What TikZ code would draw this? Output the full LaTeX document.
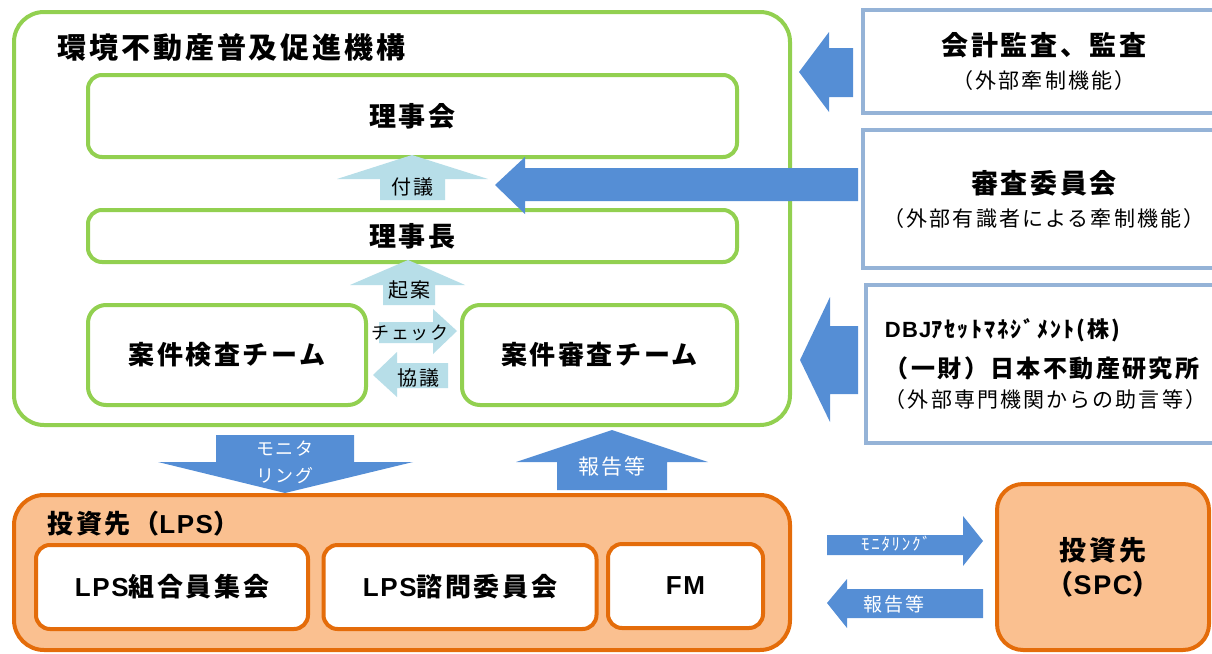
\documentclass[tikz,border=0pt]{standalone}
\usepackage{fontspec}
\setmainfont{Noto Sans CJK JP}[LetterSpace=10]
\newfontfamily\lat{Liberation Sans}[LetterSpace=6]
\usetikzlibrary{positioning}
\definecolor{leaf}{HTML}{92D050}
\definecolor{rust}{HTML}{E46C0A}
\definecolor{peach}{HTML}{FAC090}
\definecolor{steel}{HTML}{95B3D7}
\definecolor{arrblue}{HTML}{558ED5}
\definecolor{skyarr}{HTML}{B7DEE8}
\tikzset{
  gbox/.style={draw=leaf,line width=4pt,rounded corners=14pt,fill=white,
    inner sep=0pt,align=center},
  obox/.style={draw=rust,line width=4pt,rounded corners=14pt,fill=white,
    inner sep=0pt,align=center},
  sbox/.style={draw=steel,line width=4pt,fill=white,inner sep=0pt},
  barr/.style={fill=arrblue},
  larr/.style={fill=skyarr},
  hd/.style={font=\fontsize{27}{33}\selectfont\bfseries},
  wtxt/.style={text=white,font=\fontsize{19}{27}\selectfont,inner sep=0pt,align=center},
  ktxt/.style={font=\fontsize{20}{24}\selectfont,inner sep=0pt},
}

\begin{document}
\begin{tikzpicture}[x=1pt,y=-1pt]
  \useasboundingbox (0,0) rectangle (1212,653);
  \clip (0,0) rectangle (1212,653);
  % the organisation
  \node[gbox,rounded corners=30pt,minimum width=776pt,minimum height=413pt]
    (org) at (402,218.5) {};
  \node[hd,font=\fontsize{29}{33}\selectfont\bfseries,anchor=west] (orgname) at (54,48)
    {環境不動産普及促進機構};
  \node[gbox,hd,minimum width=649pt,minimum height=82pt] (board) at (412.5,116) {理事会};
  \node[gbox,hd,minimum width=649pt,minimum height=52pt] (chair) at (412.5,236) {理事長};
  \node[gbox,hd,font=\fontsize{26}{33}\selectfont\bfseries,rounded corners=18pt,
    minimum width=278pt,minimum height=100pt] (check) at (227,355) {案件検査チーム};
  \node[gbox,hd,font=\fontsize{26}{33}\selectfont\bfseries,rounded corners=18pt,
    minimum width=275pt,minimum height=100pt] (review) at (599.5,355) {案件審査チーム};
  % outside bodies
  \node[sbox,minimum width=362pt,minimum height=103pt,align=center,
    font=\fontsize{21}{33}\selectfont] (audit) at (1044,61.5)
    {{\fontsize{27}{33}\selectfont\bfseries 会計監査、監査}\\（外部牽制機能）};
  \node[sbox,minimum width=362pt,minimum height=138pt,align=center,
    font=\fontsize{21}{33}\selectfont] (panel) at (1044,199)
    {{\fontsize{27}{33}\selectfont\bfseries 審査委員会}\\（外部有識者による牽制機能）};
  \node[sbox,minimum width=359pt,minimum height=158pt,align=left,
    font=\fontsize{21}{30}\selectfont] (advisor) at (1045.5,364)
    {{\fontsize{22}{30}\selectfont\bfseries{\lat DBJ}ｱｾｯﾄﾏﾈｼﾞﾒﾝﾄ(株)}\\[10pt]
     {\fontsize{24}{30}\selectfont\bfseries （一財）日本不動産研究所}\\
     （外部専門機関からの助言等）};
  % investees
  \node[obox,fill=peach,rounded corners=30pt,minimum width=776pt,minimum height=155pt]
    (lps) at (402,572.5) {};
  \node[hd,font=\fontsize{26}{33}\selectfont\bfseries,anchor=west] (lpsname) at (44,524)
    {投資先（{\lat LPS}）};
  \node[obox,hd,font=\fontsize{26}{33}\selectfont\bfseries,minimum width=272pt,
    minimum height=84pt] (members) at (172,587) {{\lat LPS}組合員集会};
  \node[obox,hd,font=\fontsize{26}{33}\selectfont\bfseries,minimum width=273pt,
    minimum height=84pt] (advisory) at (460,587) {{\lat LPS}諮問委員会};
  \node[obox,hd,font=\fontsize{26}{33}\selectfont\bfseries,minimum width=155pt,
    minimum height=84pt] (fm) at (685.5,586) {{\lat FM}};
  \node[obox,fill=peach,rounded corners=26pt,minimum width=212pt,minimum height=166pt,
    font=\fontsize{27}{34}\selectfont\bfseries] (spc) at (1103,567)
    {投資先\\（{\lat SPC}）};
  % light blue arrows inside
  \fill[larr] (412,155) -- (488,179) -- (445,179) -- (445,200) -- (380,200)
    -- (380,179) -- (337,179) -- cycle;
  \node[ktxt] (fugi) at (412,187) {付議};
  \fill[larr] (408,260) -- (465,285) -- (435,285) -- (435,305) -- (383,305)
    -- (383,285) -- (350,285) -- cycle;
  \node[ktxt] (kian) at (409,290) {起案};
  \fill[larr] (457,331) -- (433,354) -- (433,343) -- (379,343) -- (379,322)
    -- (433,322) -- (433,309) -- cycle;
  \node[ktxt,font=\fontsize{18}{24}\selectfont] (chk) at (410,333) {チェック};
  \fill[larr] (373,375) -- (397,352) -- (397,363) -- (448,363) -- (448,388)
    -- (397,388) -- (397,397) -- cycle;
  \node[ktxt] (kyogi) at (418,378) {協議};
  % blue arrows
  \fill[barr] (799,72) -- (829,32) -- (829,48) -- (853,48) -- (853,97)
    -- (829,97) -- (829,112) -- cycle;
  \fill[barr] (495,185) -- (525,157) -- (525,168) -- (858,168) -- (858,201)
    -- (525,201) -- (525,214) -- cycle;
  \fill[barr] (800,360) -- (830,297) -- (830,326) -- (858,326) -- (858,394)
    -- (830,394) -- (830,422) -- cycle;
  \fill[barr] (285,493) -- (158,462) -- (216,462) -- (216,435) -- (354,435)
    -- (354,462) -- (413,462) -- cycle;
  \node[wtxt,font=\fontsize{18}{27}\selectfont] (mon) at (285,462) {モニタ\\リング};
  \fill[barr] (612,430) -- (708,462) -- (667,462) -- (667,490) -- (557,490)
    -- (557,462) -- (516,462) -- cycle;
  \node[wtxt,font=\fontsize{21}{27}\selectfont] (rep) at (612,467) {報告等};
  \fill[barr] (983,541) -- (963,566) -- (963,555) -- (827,555) -- (827,535)
    -- (963,535) -- (963,516) -- cycle;
  \node[wtxt,font=\fontsize{17}{27}\selectfont] (mon2) at (896,544) {ﾓﾆﾀﾘﾝｸﾞ};
  \fill[barr] (827,603) -- (847,579) -- (847,589) -- (983,589) -- (983,618)
    -- (847,618) -- (847,628) -- cycle;
  \node[wtxt] (rep2) at (894,604) {報告等};
\end{tikzpicture}
\end{document}
